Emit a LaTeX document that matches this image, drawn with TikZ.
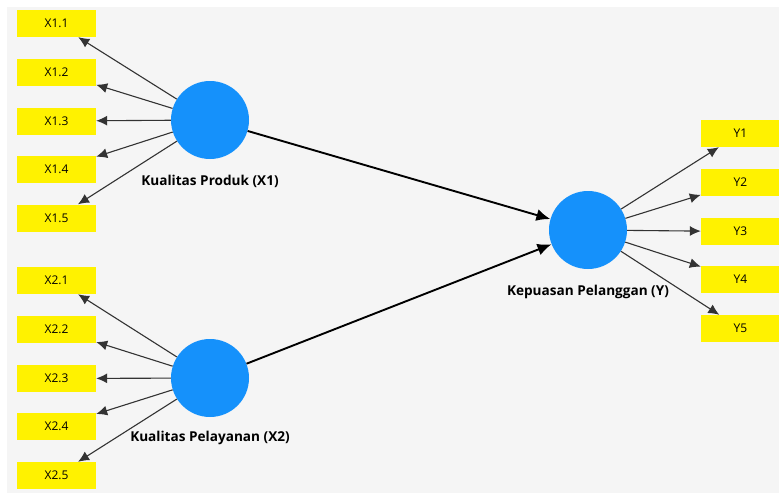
\documentclass[tikz,border=0pt]{standalone}
\usepackage{fontspec}
\setmainfont{Open Sans}
\usetikzlibrary{arrows.meta}
\definecolor{bgc}{HTML}{F5F5F5}
\definecolor{lvblue}{HTML}{1591FB}
\tikzset{
  ind/.style={draw=none,fill=yellow,minimum width=79pt,minimum height=27pt,inner sep=0pt,font=\fontsize{12}{14}\selectfont},
  lat/.style={circle,fill=lvblue,minimum size=78pt,inner sep=0pt},
  latlab/.style={font=\fontsize{13.6}{15}\selectfont\bfseries},
  load/.style={draw=black!80,line width=1.1pt,-{Latex[length=11pt,width=10pt]}},
  path/.style={draw=black,line width=1.9pt,-{Latex[length=14pt,width=12pt]}}
}
\begin{document}
\begin{tikzpicture}[x=1pt,y=-1pt]
\useasboundingbox (0,0) rectangle (779,493);
\fill[bgc] (7,7) rectangle (779,493);
% latent variables
\node[lat] (X1) at (210,120) {};
\node[lat] (X2) at (210,378) {};
\node[lat] (Y) at (588,230) {};
\node[latlab] (lX1) at (210,181) {Kualitas Produk (X1)};
\node[latlab] (lX2) at (210,438) {Kualitas Pelayanan (X2)};
\node[latlab] (lY) at (588,292) {Kepuasan Pelanggan (Y)};
% indicators X1
\node[ind] (x11) at (56.5,23.5) {X1.1};
\node[ind] (x12) at (56.5,72.5) {X1.2};
\node[ind] (x13) at (56.5,121) {X1.3};
\node[ind] (x14) at (56.5,169.5) {X1.4};
\node[ind] (x15) at (56.5,218) {X1.5};
% indicators X2
\node[ind] (x21) at (56.5,280.5) {X2.1};
\node[ind] (x22) at (56.5,329.5) {X2.2};
\node[ind] (x23) at (56.5,378.5) {X2.3};
\node[ind] (x24) at (56.5,426.5) {X2.4};
\node[ind] (x25) at (56.5,475.5) {X2.5};
% indicators Y
\node[ind] (y1) at (740.5,133.5) {Y1};
\node[ind] (y2) at (740.5,182.5) {Y2};
\node[ind] (y3) at (740.5,231.5) {Y3};
\node[ind] (y4) at (740.5,279.5) {Y4};
\node[ind] (y5) at (740.5,328.5) {Y5};
% loadings
\foreach \t in {x11,x12,x13,x14,x15} \draw[load] (X1) -- (\t);
\foreach \t in {x21,x22,x23,x24,x25} \draw[load] (X2) -- (\t);
\foreach \t in {y1,y2,y3,y4,y5} \draw[load] (Y) -- (\t);
% paths
\draw[path] (X1) -- (Y);
\draw[path] (X2) -- (Y);
\end{tikzpicture}
\end{document}
